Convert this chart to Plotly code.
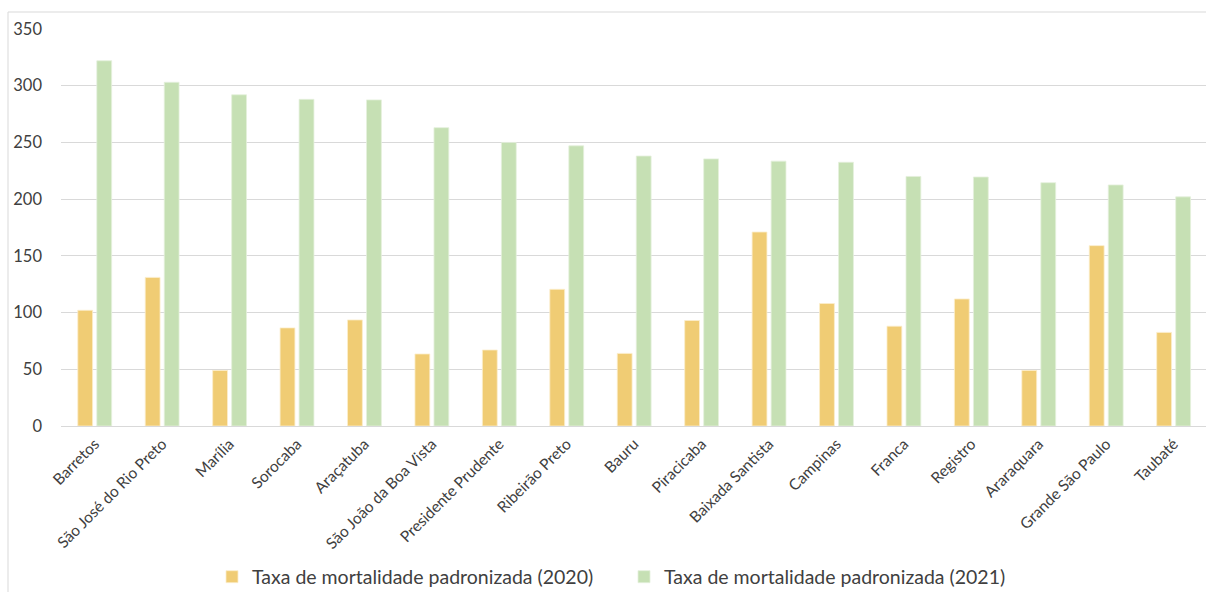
import plotly.graph_objects as go

# Regiões de saúde (DRS) do estado de São Paulo
regioes = [
    "Barretos", "São José do Rio Preto", "Marília", "Sorocaba", "Araçatuba",
    "São João da Boa Vista", "Presidente Prudente", "Ribeirão Preto", "Bauru",
    "Piracicaba", "Baixada Santista", "Campinas", "Franca", "Registro",
    "Araraquara", "Grande São Paulo", "Taubaté",
]

# Taxas de mortalidade padronizadas
taxa_2020 = [102, 131, 49, 86.5, 93.5, 63.5, 67, 120.5, 64, 93, 171, 108, 88, 112, 49, 159, 82.5]
taxa_2021 = [322, 303, 292, 288, 287.5, 263, 250, 247, 238, 235.5, 233.5, 232.5, 220, 219.5, 214.5, 212.5, 202]

nome_2020 = "Taxa de mortalidade padronizada (2020)"
nome_2021 = "Taxa de mortalidade padronizada (2021)"

y_ticks = [0, 50, 100, 150, 200, 250, 300, 350]

W, H = 1206, 592
ML, MR, MT, MB = 61, 0, 29, 166
FONT = "Lato"
TXT = "#404040"
GRID = "#d9d9d9"

fig = go.Figure()
fig.add_trace(go.Bar(
    x=regioes, y=taxa_2020, name=nome_2020,
    marker=dict(color="#f0cc74", line=dict(color="#fbeecb", width=0.8)),
))
fig.add_trace(go.Bar(
    x=regioes, y=taxa_2021, name=nome_2021,
    marker=dict(color="#c6e0b4", line=dict(color="#e4f0dc", width=0.8)),
))

pw = W - ML - MR
ph = H - MT - MB

def px_x(px):
    return (px - ML) / pw

def px_y(py):
    return (H - MB - py) / ph

# moldura do gráfico (bordas esquerda e superior)
fig.add_shape(type="line", xref="paper", yref="paper",
              x0=px_x(8), x1=px_x(8), y0=px_y(H + 5), y1=px_y(12),
              line=dict(color=GRID, width=1))
fig.add_shape(type="line", xref="paper", yref="paper",
              x0=px_x(8), x1=px_x(W + 5), y0=px_y(12), y1=px_y(12),
              line=dict(color=GRID, width=1))

fig.update_layout(
    width=W, height=H,
    margin=dict(l=ML, r=MR, t=MT, b=MB, autoexpand=False),
    paper_bgcolor="white", plot_bgcolor="white",
    barmode="group", bargap=0.436, bargroupgap=0.22,
    font=dict(family=FONT, size=16, color=TXT),
    showlegend=True,
    legend=dict(
        orientation="h", x=px_x(212), xanchor="left",
        y=px_y(577), yanchor="middle",
        font=dict(family=FONT, size=19.5, color=TXT),
        entrywidth=367, entrywidthmode="pixels",
        itemclick=False, traceorder="normal",
    ),
    xaxis=dict(
        type="category", tickangle=-45, showgrid=False, showline=False,
        ticks="", range=[-0.5, 16.48], automargin=False,
        ticklabelstandoff=5,
        tickfont=dict(family=FONT, size=15.5, color=TXT),
    ),
    yaxis=dict(
        range=[0, 350], tickvals=y_ticks, showgrid=True, gridcolor=GRID,
        gridwidth=1, zeroline=True, zerolinecolor=GRID, zerolinewidth=1,
        showline=False, ticks="", ticklabelstandoff=18, automargin=False,
        tickfont=dict(family=FONT, size=16.5, color=TXT),
    ),
)

fig.write_html("out.html")
